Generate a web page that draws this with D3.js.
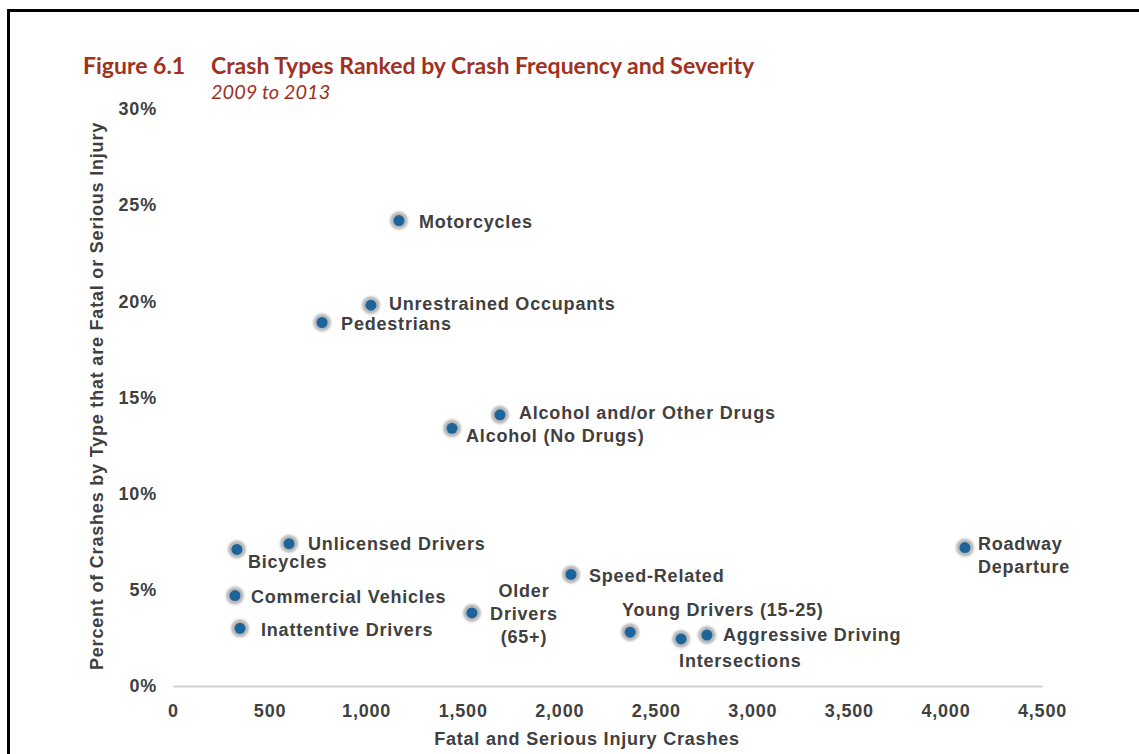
<!DOCTYPE html>
<html>
<head>
<meta charset="utf-8">
<script src="https://cdn.jsdelivr.net/npm/d3@7/dist/d3.min.js"></script>
<style>
	body { margin: 0; background: #fff; }
	text { font-family: "Liberation Sans", Arial, sans-serif; font-weight: bold; fill: #404040; letter-spacing: 0.8px; }
</style>
</head>
<body>
<div id="chart"></div>
<script>
	// crash types, fatal+serious crashes, % fatal or serious
	var names = ['Motorcycles', 'Unrestrained Occupants', 'Pedestrians', 'Alcohol and/or Other Drugs',
		'Alcohol (No Drugs)', 'Unlicensed Drivers', 'Bicycles', 'Roadway Departure', 'Speed-Related',
		'Commercial Vehicles', 'Inattentive Drivers', 'Older Drivers (65+)', 'Young Drivers (15-25)',
		'Intersections', 'Aggressive Driving'];
	var crashes = [1170, 1025, 772, 1693, 1445, 601, 331, 4101, 2061, 321, 347, 1548, 2367, 2631, 2765];
	var percents = [24.2, 19.8, 18.9, 14.1, 13.4, 7.4, 7.1, 7.2, 5.8, 4.7, 3.0, 3.8, 2.8, 2.45, 2.65];
	var xTicks = [0, 500, 1000, 1500, 2000, 2500, 3000, 3500, 4000, 4500];
	var yTicks = [0, 5, 10, 15, 20, 25, 30];

	// label layout: lines, offset from the point, anchor
	var labelPos = {
		'Motorcycles': { lines: ['Motorcycles'], dx: 20, dy: 7 },
		'Unrestrained Occupants': { lines: ['Unrestrained Occupants'], dx: 18, dy: 5 },
		'Pedestrians': { lines: ['Pedestrians'], dx: 19, dy: 8 },
		'Alcohol and/or Other Drugs': { lines: ['Alcohol and/or Other Drugs'], dx: 19, dy: 4 },
		'Alcohol (No Drugs)': { lines: ['Alcohol (No Drugs)'], dx: 14, dy: 14 },
		'Unlicensed Drivers': { lines: ['Unlicensed Drivers'], dx: 19, dy: 6 },
		'Bicycles': { lines: ['Bicycles'], dx: 11, dy: 19 },
		'Roadway Departure': { lines: ['Roadway', 'Departure'], dx: 13, dy: 2 },
		'Speed-Related': { lines: ['Speed-Related'], dx: 18, dy: 8 },
		'Commercial Vehicles': { lines: ['Commercial Vehicles'], dx: 16, dy: 7 },
		'Inattentive Drivers': { lines: ['Inattentive Drivers'], dx: 21, dy: 8 },
		'Older Drivers (65+)': { lines: ['Older', 'Drivers', '(65+)'], dx: 52, dy: -16, anchor: 'middle' },
		'Young Drivers (15-25)': { lines: ['Young Drivers (15-25)'], dx: -8, dy: -16 },
		'Intersections': { lines: ['Intersections'], dx: -2, dy: 28 },
		'Aggressive Driving': { lines: ['Aggressive Driving'], dx: 16, dy: 6 }
	};

	var W = 1139, H = 754;
	var x = d3.scaleLinear().domain([0, 4500]).range([173, 1042]);
	var y = d3.scaleLinear().domain([0, 30]).range([686, 109]);

	var svg = d3.select('#chart').append('svg')
		.attr('width', W)
		.attr('height', H)

	// frame
	svg.append('rect')
		.attr('x', 8.5).attr('y', 10.5)
		.attr('width', W + 20).attr('height', H + 20)
		.attr('fill', 'none')
		.attr('stroke', '#000')
		.attr('stroke-width', 3)

	var defs = svg.append('defs')
	defs.append('filter').attr('id', 'halo')
		.append('feGaussianBlur').attr('stdDeviation', 0.8)

	// titles
	svg.append('text')
		.attr('x', 83).attr('y', 74)
		.style('font-family', 'Lato, sans-serif')
		.style('font-size', '23px')
		.style('letter-spacing', '0')
		.style('fill', '#a0311f')
		.text('Figure 6.1')
	svg.append('text')
		.attr('x', 211).attr('y', 74)
		.style('font-family', 'Lato, sans-serif')
		.style('font-size', '23px')
		.style('letter-spacing', '0')
		.style('fill', '#a0311f')
		.text('Crash Types Ranked by Crash Frequency and Severity')
	svg.append('text')
		.attr('x', 211).attr('y', 99)
		.style('font-family', 'Lato, sans-serif')
		.style('font-weight', 'normal')
		.style('font-style', 'italic')
		.style('font-size', '20px')
		.style('letter-spacing', '0')
		.style('fill', '#a0311f')
		.text('2009 to 2013')

	// x axis
	svg.append('g')
		.attr('transform', 'translate(0,686)')
		.call(d3.axisBottom(x).tickValues(xTicks).tickSize(0).tickPadding(18).tickFormat(d3.format(',')))
		.call(g => {
			g.select('.domain').attr('stroke', '#d0d0d0').attr('stroke-width', 2)
			g.selectAll('text')
				.attr('font-family', null)
				.attr('font-size', null)
				.attr('fill', null)
				.style('font-size', '18px')
		})

	// y axis
	svg.append('g')
		.attr('transform', 'translate(157,0)')
		.call(d3.axisLeft(y).tickValues(yTicks).tickSize(0).tickPadding(0).tickFormat(d => d + '%'))
		.call(g => {
			g.select('.domain').remove()
			g.selectAll('text')
				.attr('font-family', null)
				.attr('font-size', null)
				.attr('fill', null)
				.style('font-size', '18px')
		})

	svg.append('text')
		.attr('x', 587).attr('y', 745)
		.attr('text-anchor', 'middle')
		.style('font-size', '18px')
		.text('Fatal and Serious Injury Crashes')
	svg.append('text')
		.attr('transform', 'translate(103,396) rotate(-90)')
		.attr('text-anchor', 'middle')
		.style('font-size', '18px')
		.text('Percent of Crashes by Type that are Fatal or Serious Injury')

	var data = names.map((n, i) => ({ name: n, v: crashes[i], p: percents[i] }))

	var pts = svg.selectAll('g.pt')
		.data(data)
		.enter().append('g')
		.attr('class', 'pt')
		.attr('transform', d => 'translate(' + [x(d.v), y(d.p)] + ')')
	pts.append('circle')
		.attr('r', 9)
		.attr('fill', '#b8b8b8')
		.attr('filter', 'url(#halo)')
	pts.append('circle')
		.attr('r', 5.5)
		.attr('fill', '#1c6499')

	var labels = pts.append('text')
		.attr('text-anchor', d => labelPos[d.name].anchor || 'start')
		.style('font-size', '18px')
	labels.selectAll('tspan')
		.data(d => labelPos[d.name].lines.map((l, i) => ({ l: l, i: i, pos: labelPos[d.name] })))
		.enter().append('tspan')
		.attr('x', d => d.pos.dx)
		.attr('y', d => d.pos.dy + d.i * 23)
		.text(d => d.l)
</script>
</body>
</html>
